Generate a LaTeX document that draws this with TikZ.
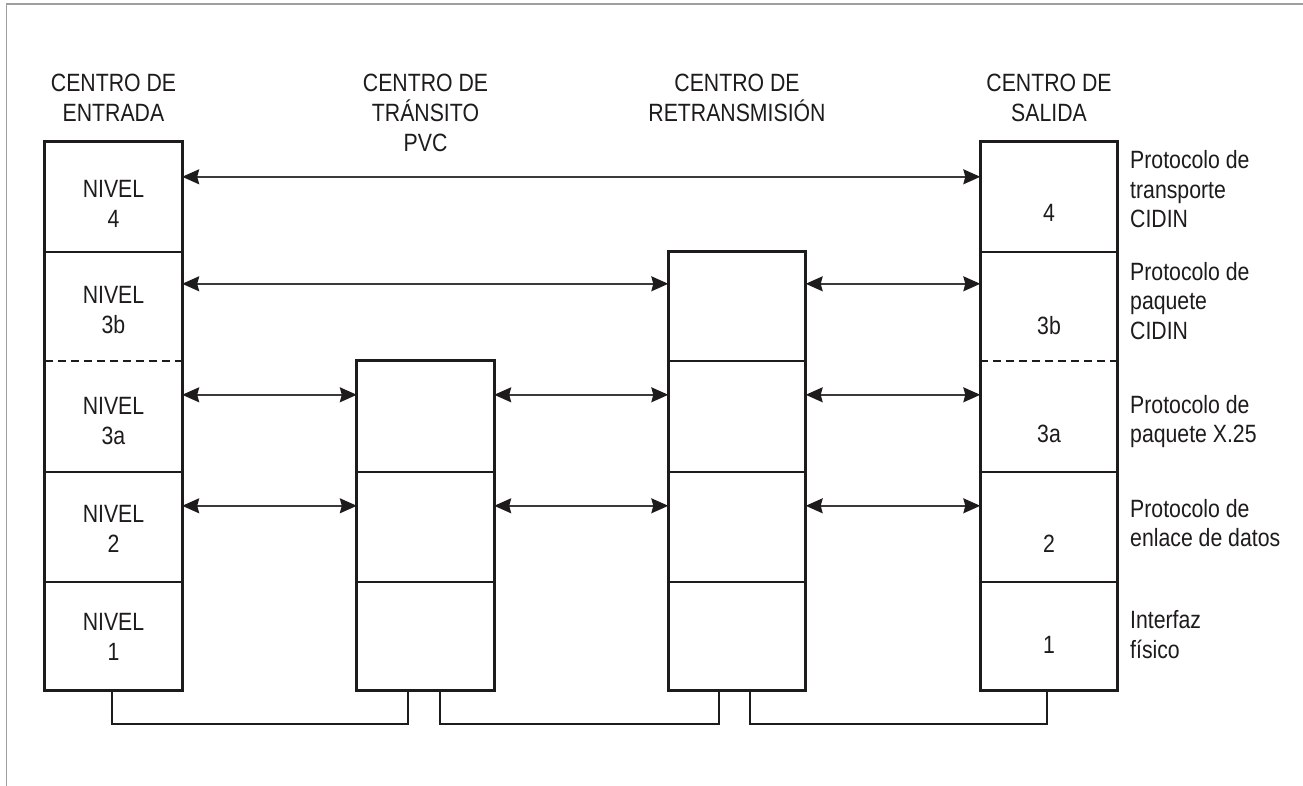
\documentclass[tikz,border=0pt]{standalone}
\usepackage{fontspec}
\setmainfont[FakeStretch=0.85]{Liberation Sans}
\usetikzlibrary{arrows.meta}
\definecolor{ink}{HTML}{1E1B1C}
\definecolor{arrline}{HTML}{3A3A3A}
\tikzset{
  cell/.style={draw=none, minimum width=137pt, inner sep=0pt},
  lbl/.style={text=ink, align=center, inner sep=0pt, font=\fontsize{25}{30}\selectfont},
  side/.style={text=ink, align=left, inner sep=0pt, anchor=base west, font=\fontsize{25}{29.5}\selectfont},
  outline/.style={draw=ink, line width=2.8pt},
  divider/.style={draw=ink, line width=1.8pt},
  ddivider/.style={draw=ink, line width=1.8pt, dash pattern=on 8pt off 5pt},
  link/.style={draw=arrline, line width=1.5pt, {Stealth[length=17pt,width=15pt,inset=2pt,color=ink]}-{Stealth[length=17pt,width=15pt,inset=2pt,color=ink]}},
  wire/.style={draw=ink, line width=2.2pt}
}
\begin{document}
\begin{tikzpicture}[x=1pt,y=-1pt]
\useasboundingbox (0,0) rectangle (1303,786);
\fill[white] (0,0) rectangle (1303,786);
% frame lines
\draw[gray!75, line width=1.6pt] (6.5,786) -- (6.5,4) -- (1303,4);

% ---------- cells ----------
% Entrada
\node[cell, minimum height=110pt] (e4)  at (113.5,197) {};
\node[cell, minimum height=109pt] (e3b) at (113.5,306.5) {};
\node[cell, minimum height=111pt] (e3a) at (113.5,416.5) {};
\node[cell, minimum height=110pt] (e2)  at (113.5,527) {};
\node[cell, minimum height=108.5pt] (e1) at (113.5,636.25) {};
% Transito
\node[cell, minimum height=111pt] (t3a) at (425.5,416.5) {};
\node[cell, minimum height=110pt] (t2)  at (425.5,527) {};
\node[cell, minimum height=108.5pt] (t1) at (425.5,636.25) {};
% Retransmision
\node[cell, minimum height=109pt] (r3b) at (737,306.5) {};
\node[cell, minimum height=111pt] (r3a) at (737,416.5) {};
\node[cell, minimum height=110pt] (r2)  at (737,527) {};
\node[cell, minimum height=108.5pt] (r1) at (737,636.25) {};
% Salida
\node[cell, minimum height=110pt] (s4)  at (1049,197) {};
\node[cell, minimum height=109pt] (s3b) at (1049,306.5) {};
\node[cell, minimum height=111pt] (s3a) at (1049,416.5) {};
\node[cell, minimum height=110pt] (s2)  at (1049,527) {};
\node[cell, minimum height=108.5pt] (s1) at (1049,636.25) {};

% dividers
\foreach \c in {e,s} {
  \draw[divider] (\c4.south west) -- (\c4.south east);
  \draw[ddivider] (\c3b.south west) -- (\c3b.south east);
  \draw[divider] (\c3a.south west) -- (\c3a.south east);
  \draw[divider] (\c2.south west) -- (\c2.south east);
}
\draw[divider] (t3a.south west) -- (t3a.south east);
\draw[divider] (t2.south west) -- (t2.south east);
\draw[divider] (r3b.south west) -- (r3b.south east);
\draw[divider] (r3a.south west) -- (r3a.south east);
\draw[divider] (r2.south west) -- (r2.south east);

% outlines
\draw[outline] (e4.north west) rectangle (e1.south east);
\draw[outline] (t3a.north west) rectangle (t1.south east);
\draw[outline] (r3b.north west) rectangle (r1.south east);
\draw[outline] (s4.north west) rectangle (s1.south east);

% ---------- titles (base = last line) ----------
\node[lbl, anchor=base] (te) at (113.5,122) {CENTRO DE\\ENTRADA};
\node[lbl, anchor=base] (tt) at (425.5,151.7) {CENTRO DE\\TRÁNSITO\\PVC};
\node[lbl, anchor=base] (tr) at (737,121.7) {CENTRO DE\\RETRANSMISIÓN};
\node[lbl, anchor=base] (ts) at (1049,122) {CENTRO DE\\SALIDA};

% ---------- level labels ----------
\node[lbl, anchor=base] (le4)  at (113.5,228) {NIVEL\\4};
\node[lbl, anchor=base] (le3b) at (113.5,333.3) {NIVEL\\3b};
\node[lbl, anchor=base] (le3a) at (113.5,444) {NIVEL\\3a};
\node[lbl, anchor=base] (le2)  at (113.5,552.7) {NIVEL\\2};
\node[lbl, anchor=base] (le1)  at (113.5,660) {NIVEL\\1};

\node[lbl, anchor=base] (ls4)  at (1049,222) {4};
\node[lbl, anchor=base] (ls3b) at (1049,334) {3b};
\node[lbl, anchor=base] (ls3a) at (1049,442) {3a};
\node[lbl, anchor=base] (ls2)  at (1049,552) {2};
\node[lbl, anchor=base] (ls1)  at (1049,653) {1};

% ---------- side labels ----------
\node[side] (p4)  at (1130,228) {Protocolo de\\transporte\\CIDIN};
\node[side] (p3b) at (1130,339) {Protocolo de\\paquete\\CIDIN};
\node[side] (p3a) at (1130,442.5) {Protocolo de\\paquete X.25};
\node[side] (p2)  at (1130,546.5) {Protocolo de\\enlace de datos};
\node[side] (p1)  at (1130,658) {Interfaz\\físico};

% ---------- arrows ----------
\draw[link] ([yshift=-35pt]e4.north east) -- ([yshift=-35pt]s4.north west);
\draw[link] ([yshift=-32pt]e3b.north east) -- ([yshift=-32pt]r3b.north west);
\draw[link] ([yshift=-32pt]r3b.north east) -- ([yshift=-32pt]s3b.north west);
\foreach \row/\d in {3a/34, 2/34} {
  \draw[link] ([yshift=-\d pt]e\row.north east) -- ([yshift=-\d pt]t\row.north west);
  \draw[link] ([yshift=-\d pt]t\row.north east) -- ([yshift=-\d pt]r\row.north west);
  \draw[link] ([yshift=-\d pt]r\row.north east) -- ([yshift=-\d pt]s\row.north west);
}

% ---------- physical links ----------
\draw[wire] ([xshift=-1.5pt]e1.south) -- ++(0,33) -| ([xshift=-17.5pt]t1.south);
\draw[wire] ([xshift=14.5pt]t1.south) -- ++(0,33) -| ([xshift=-18pt]r1.south);
\draw[wire] ([xshift=13pt]r1.south) -- ++(0,33) -| ([xshift=-2pt]s1.south);
\end{tikzpicture}
\end{document}
